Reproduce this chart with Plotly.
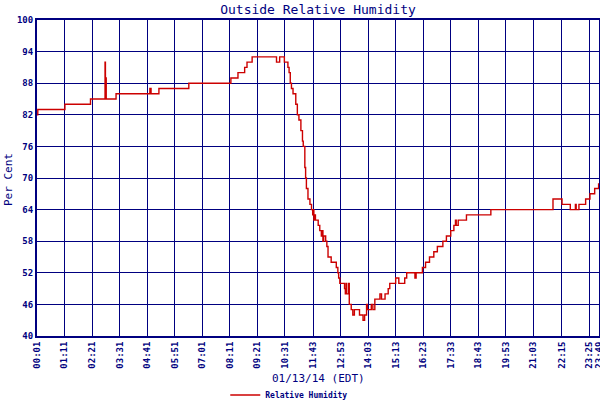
import plotly.graph_objects as go

# step change points of the humidity record (time of day, % RH)
times = ["00:01","00:03","01:12","02:17","02:54","02:55","02:56","02:57","03:22","04:48",
         "04:51","05:11","06:27","08:14","08:32","08:49","08:55","09:08","10:10","10:18",
         "10:30","10:39","10:42","10:45","10:48","10:52","10:59","11:03","11:07","11:12",
         "11:16","11:18","11:22","11:24","11:26","11:30","11:35","11:39","11:42","11:44",
         "11:45","11:48","11:49","11:56","12:00","12:04","12:06","12:08","12:10","12:15",
         "12:18","12:21","12:29","12:42","12:46","12:48","12:51","13:03","13:05","13:07",
         "13:08","13:11","13:13","13:15","13:20","13:24","13:28","13:41","13:50","13:54",
         "13:59","14:01","14:11","14:15","14:20","14:33","14:37","14:46","14:54","14:58",
         "15:13","15:21","15:36","15:41","16:02","16:05","16:21","16:29","16:39","16:50",
         "16:59","17:13","17:22","17:33","17:41","17:45","17:47","17:52","18:13","19:15",
         "21:53","22:16","22:37","22:50","22:52","22:59","23:16","23:27","23:39","23:49"]
humidity = [82,83,84,85,92,85,89,85,86,87,
            86,87,88,89,90,91,92,93,92,93,
            92,91,90,88,87,86,84,82,81,79,
            77,76,72,70,68,66,65,64,63,64,
            62,63,62,61,60,59,60,58,59,58,
            57,55,54,53,52,51,50,49,48,50,
            48,48,50,46,45,44,45,44,43,44,
            46,45,46,45,47,48,47,48,49,50,
            51,50,51,52,51,52,53,54,55,56,
            57,58,59,60,61,62,61,62,63,64,
            66,65,64,65,64,65,66,67,68,69]

tick_labels = ["00:01","01:11","02:21","03:31","04:41","05:51","07:01","08:11","09:21","10:31",
               "11:43","12:53","14:03","15:13","16:23","17:33","18:43","19:53","21:03","22:15",
               "23:25","23:49"]
y_ticks = [40, 46, 52, 58, 64, 70, 76, 82, 88, 94, 100]

def to_min(t):
    h, m = t.split(":")
    return int(h) * 60 + int(m)

x = [to_min(t) for t in times]
tick_vals = [to_min(t) for t in tick_labels]

NAVY = "#000080"
FONT = "DejaVu Sans Mono"

fig = go.Figure()
fig.add_trace(go.Scatter(
    x=x, y=humidity, mode="lines", line_shape="hv",
    line=dict(color="#cc0000", width=1.4),
    name="Relative Humidity", showlegend=True,
))

fig.update_layout(
    width=600, height=400,
    margin=dict(l=37, r=1, t=20, b=64),
    paper_bgcolor="white", plot_bgcolor="white",
    title=dict(text="Outside Relative Humidity", x=0.5, xanchor="center", xref="paper",
               y=1 - 9 / 400, yanchor="middle", yref="container",
               font=dict(family=FONT, size=13, color=NAVY)),
    showlegend=True,
    legend=dict(orientation="h", x=0.335, xanchor="left", y=5 / 400, yanchor="middle",
                yref="container", font=dict(family=FONT, size=8, color=NAVY, weight="bold"),
                bgcolor="rgba(0,0,0,0)", itemwidth=30, tracegroupgap=0),
)

fig.update_xaxes(
    range=[1, 1430], tickvals=tick_vals, ticktext=tick_labels, tickangle=-90,
    tickfont=dict(family=FONT, size=9, color=NAVY, weight="bold"),
    ticklabeloverflow="allow",
    showgrid=True, gridcolor=NAVY, gridwidth=1.3,
    showline=True, linecolor=NAVY, linewidth=2, mirror=True,
    ticks="", zeroline=False, automargin=False,
)
fig.update_yaxes(
    range=[40, 100], tickvals=y_ticks,
    tickfont=dict(family=FONT, size=9, color=NAVY, weight="bold"),
    showgrid=True, gridcolor=NAVY, gridwidth=1.3,
    showline=True, linecolor=NAVY, linewidth=2, mirror=True,
    ticks="", zeroline=False, automargin=False,
)

fig.add_annotation(text="01/13/14 (EDT)", xref="paper", yref="paper",
                   x=(318 - 37) / 562, y=-(378 - 336) / 316, xanchor="center", yanchor="middle",
                   showarrow=False, font=dict(family=FONT, size=11, color=NAVY))
fig.add_annotation(text="Per Cent", xref="paper", yref="paper",
                   x=-(37 - 8) / 562, y=(336 - 180) / 316, xanchor="center", yanchor="middle",
                   textangle=-90, showarrow=False, font=dict(family=FONT, size=11, color=NAVY))

fig.write_html("out.html", config={"displayModeBar": False},
               post_script="document.body.style.margin='0px';")
